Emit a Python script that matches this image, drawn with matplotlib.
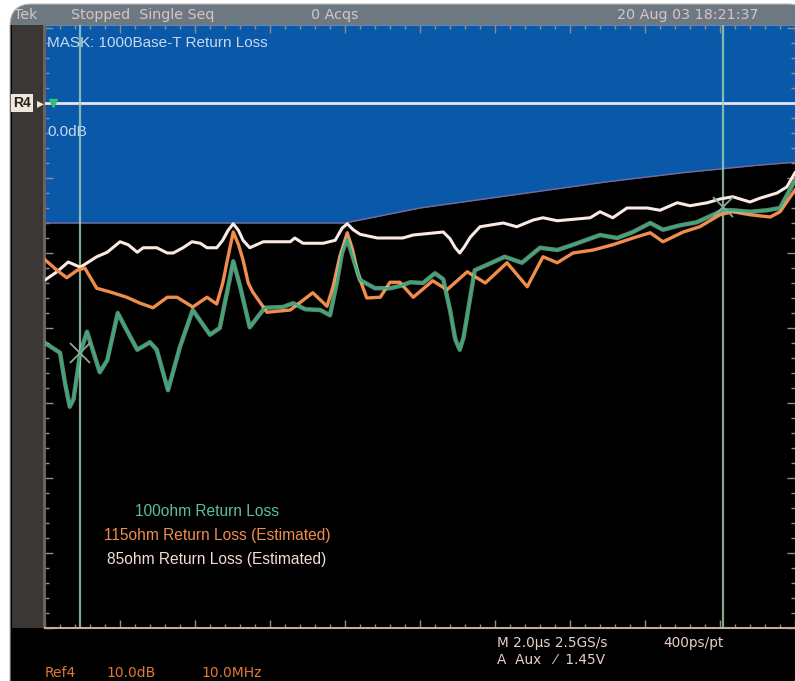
import numpy as np
import matplotlib.pyplot as plt
from matplotlib.patches import FancyBboxPatch, Rectangle
from matplotlib.ticker import MultipleLocator

# 1000Base-T return loss mask (dB vs MHz)
mask_freq = [0, 40, 45, 50, 55, 60, 65, 70, 75, 80, 85, 90, 95, 100]
mask_db = [-16.0, -16.0, -15.0, -14.0, -13.3, -12.6, -11.9, -11.2, -10.5, -9.9, -9.3, -8.8, -8.3, -7.9]

# 85 ohm (estimated)
rl85_freq = [0, 1.6, 3.1, 4.7, 6.9, 8.3, 10.0, 11.1, 12.3, 13.1, 14.9, 16.3, 17.1, 18.4, 19.6,
             20.7, 21.6, 22.9, 23.7, 24.4, 25.1, 25.8, 26.4, 27.3, 29.1, 32.7, 33.3, 34.4, 37.1,
             38.7, 39.6, 40.3, 41.1, 42.0, 44.3, 47.7, 49.1, 53.1, 54.0, 54.7, 55.3, 55.9, 56.7,
             58.0, 61.1, 62.9, 65.1, 66.4, 68.3, 72.7, 74.0, 75.7, 77.6, 80.3, 82.0, 84.3, 86.0,
             88.3, 90.0, 91.7, 94.0, 95.3, 97.6, 98.9, 100]
rl85_db = [-23.6, -22.5, -21.2, -21.9, -20.5, -19.9, -18.5, -18.9, -19.9, -19.3, -19.3, -20.0,
           -20.0, -19.3, -18.5, -18.7, -19.3, -19.3, -18.3, -17.0, -16.1, -17.0, -18.3, -19.3,
           -18.5, -18.5, -18.0, -18.7, -18.7, -18.3, -16.7, -16.1, -16.9, -17.5, -18.0, -18.0,
           -17.6, -17.2, -18.1, -19.3, -20.0, -19.2, -17.9, -16.5, -16.0, -16.5, -15.6, -15.3,
           -15.7, -15.3, -14.5, -15.3, -14.0, -14.0, -14.3, -13.3, -13.7, -13.3, -12.8, -12.5,
           -13.2, -12.7, -12.0, -11.2, -9.3]

# 115 ohm (estimated)
rl115_freq = [0, 1.6, 2.9, 4.3, 5.3, 6.9, 8.7, 10.9, 12.7, 14.4, 16.3, 17.6, 19.7, 21.6, 22.9,
              23.7, 24.3, 25.1, 25.8, 26.4, 27.1, 27.7, 29.6, 32.7, 34.4, 35.7, 37.6, 38.4,
              39.3, 40.3, 41.0, 41.7, 42.9, 44.7, 46.0, 47.3, 49.1, 51.7, 53.6, 56.3, 58.7,
              61.6, 64.3, 66.4, 68.3, 70.4, 73.1, 75.7, 78.4, 80.7, 82.4, 85.1, 87.3, 90.0,
              91.7, 94.0, 96.7, 98.0, 100]
rl115_db = [-20.9, -22.3, -23.3, -22.3, -22.0, -24.7, -25.2, -25.9, -26.7, -27.3, -25.9, -25.9,
            -27.2, -25.9, -26.8, -24.0, -21.0, -17.2, -18.9, -20.9, -24.0, -25.2, -27.9, -27.6,
            -26.3, -25.3, -27.1, -24.5, -20.5, -17.3, -19.5, -22.7, -26.0, -25.9, -23.9, -23.9,
            -25.9, -23.7, -24.9, -22.5, -24.0, -21.3, -24.5, -20.5, -21.3, -20.0, -19.6, -18.9,
            -18.0, -17.3, -18.5, -17.2, -16.5, -14.9, -14.5, -14.9, -15.2, -14.5, -11.6]

# 100 ohm (measured)
rl100_freq = [0, 2.0, 2.7, 3.3, 3.8, 4.7, 5.6, 7.3, 8.3, 9.7, 10.9, 12.3, 14.0, 14.9, 16.4, 18.0,
              19.7, 22.0, 23.3, 24.3, 25.1, 26.0, 27.3, 29.3, 31.7, 33.1, 34.7, 36.7, 38.0,
              38.9, 39.6, 40.3, 41.0, 42.0, 44.0, 46.0, 47.3, 48.7, 50.4, 52.0, 53.1, 54.0,
              54.7, 55.3, 55.8, 56.3, 57.3, 59.1, 61.3, 63.6, 66.0, 68.3, 70.4, 74.0, 76.3,
              78.4, 80.7, 82.4, 84.7, 86.9, 89.1, 90.4, 91.7, 94.0, 96.3, 98.0, 100]
rl100_db = [-32.0, -33.3, -37.5, -40.5, -39.5, -33.3, -30.5, -35.9, -34.3, -28.0, -30.3, -32.9,
            -31.9, -32.9, -38.3, -32.5, -27.6, -30.9, -30.0, -25.1, -21.1, -24.4, -29.9, -27.3,
            -27.2, -26.7, -27.5, -27.6, -28.3, -24.0, -20.0, -18.1, -20.4, -23.6, -24.7, -24.7,
            -24.4, -23.9, -24.0, -22.7, -23.5, -27.6, -31.5, -32.9, -31.3, -28.3, -22.3, -21.5,
            -20.5, -21.3, -19.3, -19.6, -18.9, -17.6, -18.0, -17.2, -16.0, -16.9, -16.3, -15.9,
            -14.9, -14.3, -14.3, -14.5, -14.3, -14.0, -10.3]

cursor_freq = [4.7, 90.4]
cursor_db = [-33.3, -13.9]

legend_labels = ["100ohm Return Loss", "115ohm Return Loss (Estimated)",
                 "85ohm Return Loss (Estimated)"]

W, H = 795, 681
BLUE = "#0a58a8"
GREEN = "#3aaa78"
ORANGE = "#f08c4c"
WHITE = "#fbe9e4"
SANS = ["Liberation Sans", "DejaVu Sans"]

fig = plt.figure(figsize=(W / 100, H / 100), dpi=100)
fig.patch.set_facecolor("white")

# screen frame, status bar and left strip in pixel coordinates
bg = fig.add_axes([0, 0, 1, 1])
bg.set_xlim(0, W)
bg.set_ylim(H, 0)
bg.axis("off")
bg.add_patch(FancyBboxPatch((10, 4), 800, 700, boxstyle="round,pad=0,rounding_size=22",
                            facecolor="black", edgecolor="none"))
bg.add_patch(FancyBboxPatch((10, 4), 800, 40, boxstyle="round,pad=0,rounding_size=22",
                            facecolor="#6e7880", edgecolor="none"))
bg.add_patch(Rectangle((10, 25), 800, 30, facecolor="black", edgecolor="none"))
bg.add_patch(Rectangle((12, 25), 31, 603, facecolor="#3b3734", edgecolor="none"))
bg.add_patch(Rectangle((43, 25), 2, 603, facecolor="#6a625c", edgecolor="none"))
bg.add_patch(FancyBboxPatch((10, 4), 800, 700, boxstyle="round,pad=0,rounding_size=22",
                            facecolor="none", edgecolor="#b8b8b8", lw=0.8))

bar_kw = dict(color="#d4c6c6", fontsize=10.3, family=["DejaVu Sans"], va="center")
bg.text(14, 15, "Tek", **bar_kw)
bg.text(71, 15, "Stopped  Single Seq", **bar_kw)
bg.text(311, 15, "0 Acqs", **bar_kw)
bg.text(617, 15, "20 Aug 03 18:21:37", **bar_kw)

bot_kw = dict(color="#ead0c8", fontsize=9.8, family=["DejaVu Sans"], va="center")
bg.text(497, 643, "M 2.0\u00b5s 2.5GS/s", **bot_kw)
bg.text(663, 643, "400ps/pt", **bot_kw)
bg.text(497, 660, "A  Aux   \u2044  1.45V", **bot_kw)
ref_kw = dict(color="#e07838", fontsize=10, family=["DejaVu Sans"], va="center")
bg.text(45, 673, "Ref4", **ref_kw)
bg.text(106, 673, "10.0dB", **ref_kw)
bg.text(201, 673, "10.0MHz", **ref_kw)

# reference indicator on the left strip
bg.text(13, 103, "R4", color="#222222", fontsize=10, fontweight="bold", family=SANS,
        va="center", bbox=dict(boxstyle="square,pad=0.15", facecolor="#f2e6dc", edgecolor="none"))
bg.text(37, 103, "\u25b8", color="#f2e6dc", fontsize=10, va="center", family=["DejaVu Sans"])

# graticule area: 10 MHz/div horizontally, 10 dB/div vertically
ax = fig.add_axes([45 / W, (H - 628) / H, 750 / W, 603 / H])
ax.set_facecolor("black")
ax.set_xlim(0, 100)
ax.set_ylim(-70, 10.4)

ax.fill_between(mask_freq, mask_db, 10.4, color=BLUE, lw=0, zorder=1)
ax.plot(mask_freq, mask_db, color="#7a6a9a", lw=1, zorder=2)
ax.axhline(0, color="#f0e2f0", lw=2, zorder=3)
for f in cursor_freq:
    ax.axvline(f, color="#a2d4b8", lw=1.6, alpha=0.8, zorder=4)

ax.plot(rl85_freq, rl85_db, color=WHITE, lw=2.2, zorder=5)
ax.plot(rl115_freq, rl115_db, color=ORANGE, lw=2.4, zorder=6)
ax.plot(rl100_freq, rl100_db, color="#a8d8c0", lw=3.2, alpha=0.6, zorder=7)
ax.plot(rl100_freq, rl100_db, color=GREEN, lw=1.7, zorder=8)
ax.plot(cursor_freq, cursor_db, "x", color="#8aa898", ms=14, mew=1.3, zorder=9)
ax.plot([1.0], [0], "v", color="#30c070", ms=6, zorder=9)

ax.text(0.3, 8.0, "MASK: 1000Base-T Return Loss", color="#c8d8f0", fontsize=11,
        family=SANS, va="center")
ax.text(0.3, -3.8, "0.0dB", color="#c8d8f0", fontsize=11, family=SANS, va="center")

leg_colors = ["#5cc096", ORANGE, "#f4dcd4"]
leg_y = [-54.5, -57.7, -60.9]
leg_x = [21.6, 22.9, 22.9]
for lab, c, yy, xx in zip(legend_labels, leg_colors, leg_y, leg_x):
    ax.text(xx, yy, lab, color=c, fontsize=11.2, family=SANS, ha="center", va="center")

ax.set_xticks(np.arange(0, 101, 10))
ax.set_yticks(np.arange(-70, 10.5, 10))
ax.xaxis.set_minor_locator(MultipleLocator(2))
ax.yaxis.set_minor_locator(MultipleLocator(2))
ax.tick_params(which="both", direction="in", color="#9c8c80", labelbottom=False,
               labelleft=False, top=True, right=True)
ax.tick_params(which="major", length=6, width=1)
ax.tick_params(which="minor", length=3, width=1)
ax.spines["bottom"].set_color("#c4ac98")
ax.spines["bottom"].set_linewidth(1.5)
ax.spines["left"].set_color("#6a625c")
ax.spines["top"].set_color("#5a88b8")
ax.spines["right"].set_visible(False)

fig.savefig("out.png", dpi=100, facecolor="white")
